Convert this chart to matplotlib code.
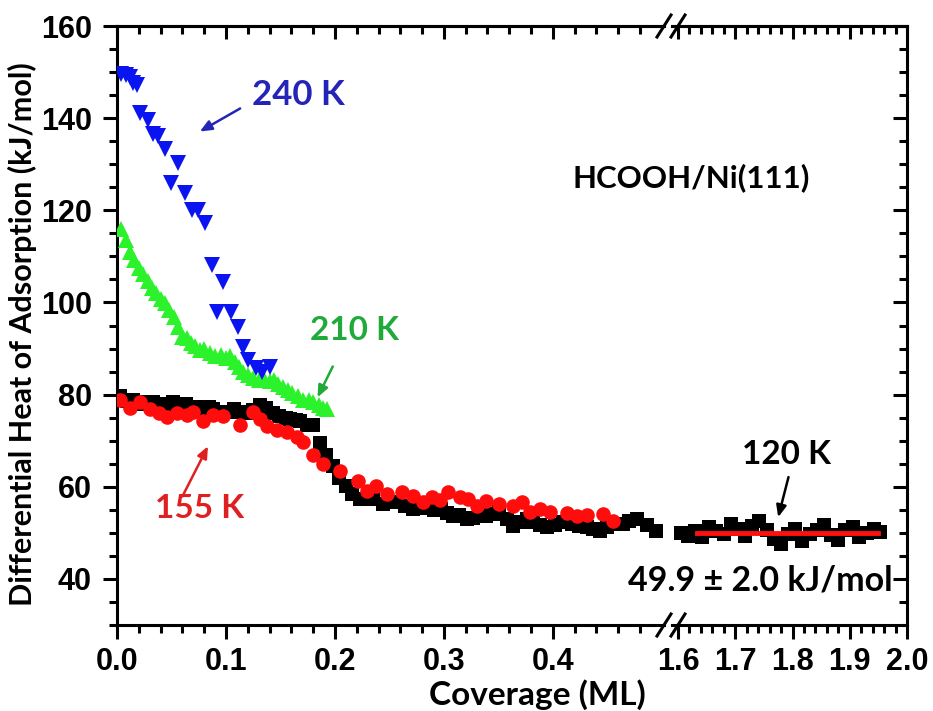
import matplotlib
matplotlib.use("Agg")
import matplotlib.pyplot as plt
from matplotlib.ticker import MultipleLocator, FixedLocator, FormatStrFormatter
from matplotlib.font_manager import FontProperties
from matplotlib.lines import Line2D

# ---- data ----
black_x = [0.003, 0.009, 0.015, 0.021, 0.027, 0.033, 0.040, 0.046, 0.051, 0.057,
           0.063, 0.069, 0.073, 0.079, 0.084, 0.088, 0.094, 0.101, 0.107, 0.113,
           0.119, 0.125, 0.131, 0.137, 0.143, 0.149, 0.155, 0.159, 0.164, 0.168,
           0.174, 0.180, 0.186, 0.192, 0.198, 0.204, 0.210, 0.216, 0.223, 0.230,
           0.235, 0.244, 0.250, 0.257, 0.264, 0.272, 0.279, 0.285, 0.291, 0.297,
           0.303, 0.308, 0.314, 0.321, 0.327, 0.333, 0.339, 0.345, 0.351, 0.358,
           0.363, 0.370, 0.376, 0.382, 0.388, 0.395, 0.402, 0.409, 0.418, 0.424,
           0.431, 0.437, 0.443, 0.450, 0.455, 0.464, 0.470, 0.477, 0.486, 0.495]
black_y = [79.6, 78.6, 78.9, 78.0, 78.5, 78.3, 77.6, 78.0, 78.3, 77.5,
           77.9, 77.2, 77.4, 76.8, 77.3, 76.8, 76.3, 76.3, 76.8, 76.3,
           76.0, 76.6, 77.8, 77.0, 76.1, 75.4, 74.9, 74.6, 74.4, 74.2,
           73.5, 73.5, 69.4, 66.8, 64.5, 62.0, 60.2, 58.4, 57.3, 58.0,
           57.3, 56.2, 56.8, 56.6, 55.8, 55.1, 55.4, 55.7, 55.0, 55.1,
           54.2, 53.6, 53.8, 53.0, 53.2, 53.8, 53.6, 54.0, 54.5, 53.0,
           51.5, 52.4, 52.9, 52.3, 51.6, 51.2, 51.8, 52.3, 52.0, 51.4,
           51.2, 50.9, 50.4, 51.2, 51.9, 51.9, 52.5, 53.0, 51.6, 50.4]

black_hi_x = [1.605, 1.617, 1.630, 1.642, 1.655, 1.667, 1.680, 1.692, 1.705, 1.717,
              1.730, 1.742, 1.755, 1.767, 1.780, 1.792, 1.805, 1.817, 1.830, 1.842,
              1.855, 1.867, 1.880, 1.892, 1.905, 1.917, 1.930, 1.942, 1.952]
black_hi_y = [50.0, 49.4, 50.3, 49.1, 51.2, 50.5, 49.8, 51.9, 50.8, 49.3,
              51.4, 52.6, 50.6, 48.6, 47.6, 49.8, 50.9, 48.2, 49.7, 50.6,
              51.8, 49.5, 48.4, 50.7, 51.3, 49.2, 49.9, 50.8, 50.2]
fit_x = [1.633, 1.949]
fit_y = [49.9, 49.9]

red_x = [0.003, 0.012, 0.021, 0.030, 0.039, 0.046, 0.055, 0.064, 0.070, 0.079,
         0.088, 0.097, 0.113, 0.125, 0.131, 0.138, 0.147, 0.156, 0.165, 0.171,
         0.180, 0.189, 0.205, 0.221, 0.229, 0.238, 0.248, 0.262, 0.272, 0.281,
         0.289, 0.296, 0.304, 0.315, 0.322, 0.330, 0.339, 0.351, 0.363, 0.372,
         0.379, 0.388, 0.397, 0.413, 0.422, 0.431, 0.446, 0.455]
red_y = [78.9, 77.2, 78.5, 76.8, 76.1, 75.2, 76.0, 75.6, 76.2, 74.2,
         75.6, 75.4, 73.5, 76.3, 74.6, 73.1, 72.4, 71.8, 70.7, 69.8,
         67.0, 64.9, 63.4, 61.2, 59.0, 60.1, 58.4, 58.8, 58.0, 56.7,
         57.7, 57.2, 58.8, 57.8, 57.3, 55.8, 56.9, 56.2, 55.8, 56.7,
         54.5, 55.1, 54.6, 54.4, 53.6, 53.8, 54.0, 52.5]

green_x = [0.004, 0.008, 0.012, 0.016, 0.020, 0.024, 0.028, 0.032, 0.036, 0.040,
           0.044, 0.048, 0.052, 0.056, 0.060, 0.064, 0.068, 0.072, 0.076, 0.080,
           0.085, 0.090, 0.095, 0.100, 0.104, 0.108, 0.112, 0.116, 0.120, 0.125,
           0.130, 0.135, 0.140, 0.144, 0.148, 0.152, 0.157, 0.161, 0.166, 0.171,
           0.176, 0.180, 0.185, 0.189, 0.193]
green_y = [116.0, 113.6, 111.0, 109.2, 107.4, 106.2, 104.6, 103.2, 102.0, 100.8,
           99.8, 98.4, 96.8, 94.6, 92.6, 92.2, 91.2, 90.6, 89.6, 89.9,
           89.0, 88.4, 88.6, 88.0, 88.3, 87.0, 86.0, 85.0, 84.2, 83.6,
           83.2, 83.4, 82.9, 83.2, 82.3, 81.6, 81.0, 80.3, 79.6, 78.9,
           78.8, 78.4, 77.8, 77.1, 76.9]

blue_x = [0.004, 0.008, 0.012, 0.015, 0.018, 0.021, 0.028, 0.033, 0.038, 0.044,
          0.050, 0.056, 0.062, 0.069, 0.074, 0.081, 0.087, 0.092, 0.097, 0.105,
          0.111, 0.116, 0.120, 0.128, 0.133, 0.140]
blue_y = [149.6, 149.4, 149.0, 147.7, 147.2, 141.2, 139.5, 136.6, 136.2, 133.4,
          126.0, 130.2, 123.7, 120.0, 120.0, 117.2, 108.1, 97.9, 104.5, 97.9,
          94.7, 90.4, 87.6, 85.8, 84.8, 86.1]

# ---- figure ----
W, H = 933, 711
fig = plt.figure(figsize=(W / 100, H / 100), dpi=100)

def fx(px):
    return px / W

def fy(py):
    return 1 - py / H

top, bot = 26, 625
ax1 = fig.add_axes([fx(117), fy(bot), fx(664) - fx(117), fy(top) - fy(bot)])
ax2 = fig.add_axes([fx(672), fy(bot), fx(907) - fx(672), fy(top) - fy(bot)])

lw = 2.2
tick_font = dict(family="Liberation Sans", weight="bold", size=22)
txt_font = "Lato"

for ax in (ax1, ax2):
    ax.patch.set_visible(False)
    ax.set_ylim(30, 160)
    for s in ax.spines.values():
        s.set_linewidth(lw)
    ax.yaxis.set_major_locator(MultipleLocator(20))
    ax.yaxis.set_minor_locator(MultipleLocator(5))

ax1.set_xlim(0, 0.502)
ax2.set_xlim(1.5895, 2.0)
ax1.spines["right"].set_visible(False)
ax2.spines["left"].set_visible(False)

ax1.xaxis.set_major_locator(FixedLocator([0.0, 0.1, 0.2, 0.3, 0.4]))
ax1.xaxis.set_minor_locator(FixedLocator([i * 0.02 for i in range(25)]))
ax2.xaxis.set_major_locator(FixedLocator([1.6, 1.7, 1.8, 1.9, 2.0]))
ax2.xaxis.set_minor_locator(FixedLocator([1.6 + i * 0.02 for i in range(21)]))
for ax in (ax1, ax2):
    ax.xaxis.set_major_formatter(FormatStrFormatter("%.1f"))
    ax.tick_params(axis="x", which="major", direction="out", length=10, width=lw, pad=6, top=False)
    ax.tick_params(axis="x", which="minor", direction="out", length=5.5, width=lw, top=False)
    for lab in ax.get_xticklabels():
        lab.set_fontproperties(FontProperties(**tick_font))
    # inward ticks along the top edge
    sec = ax.secondary_xaxis("top")
    sec.xaxis.set_major_locator(ax.xaxis.get_major_locator())
    sec.xaxis.set_minor_locator(ax.xaxis.get_minor_locator())
    sec.tick_params(axis="x", which="major", direction="in", length=9, width=lw, labeltop=False)
    sec.tick_params(axis="x", which="minor", direction="in", length=6, width=lw)
    sec.spines["top"].set_linewidth(lw)

ax1.yaxis.set_major_formatter(FormatStrFormatter("%d"))
ax1.tick_params(axis="y", which="major", direction="out", length=10, width=lw, pad=8, right=False)
ax1.tick_params(axis="y", which="minor", direction="out", length=5.5, width=lw, right=False)
for lab in ax1.get_yticklabels():
    lab.set_fontproperties(FontProperties(**tick_font))
ax2.yaxis.tick_right()
ax2.tick_params(axis="y", which="major", direction="in", length=10, width=lw, labelright=False, left=False)
ax2.tick_params(axis="y", which="minor", direction="in", length=6, width=lw, left=False)

# ---- data marks ----
ax1.plot(black_x, black_y, "s", color="black", ms=9.5, mew=0, zorder=3)
ax2.plot(black_hi_x, black_hi_y, "s", color="black", ms=9.5, mew=0, zorder=3)
ax2.plot(fit_x, fit_y, "-", color="#ff1010", lw=3.5, zorder=4)
ax1.plot(red_x, red_y, "o", color="#ff0d0d", ms=10.5, mew=0, zorder=4)
ax1.plot(green_x, green_y, "^", color="#2cf22c", ms=12, mew=0, zorder=5)
ax1.plot(blue_x, blue_y, "v", color="#0a14f0", ms=12, mew=0, zorder=6)

# ---- annotations ----
def note(px, py, s, color, size=24):
    fig.text(fx(px), fy(py), s, color=color, ha="center", va="center",
             fontsize=size, fontweight="bold", family=txt_font, zorder=7)

def arrow(ax, tail, head, color):
    ax.annotate("", xy=head, xytext=tail,
                arrowprops=dict(arrowstyle="-|>,head_length=0.7,head_width=0.3",
                                color=color, lw=1.8, shrinkA=0, shrinkB=0))

note(298, 95, "240 K", "#2424b8", 25)
arrow(ax1, (0.113, 142.1), (0.076, 137.1), "#2424b8")
note(355, 330, "210 K", "#1faa3a")
arrow(ax1, (0.198, 86.1), (0.184, 79.4), "#1faa3a")
note(200, 508, "155 K", "#e02020")
arrow(ax1, (0.060, 57.9), (0.0835, 68.8), "#e02020")
note(691, 178, "HCOOH/Ni(111)", "black", 22.5)
note(787, 455, "120 K", "black")
arrow(ax2, (1.793, 62.1), (1.775, 53.4), "black")
note(760, 580, "49.9 \u00b1 2.0 kJ/mol", "black", 24.5)

# ---- axis titles ----
fig.text(fx(537), fy(695), "Coverage (ML)", ha="center", va="center",
         fontsize=24, fontweight="bold", family=txt_font)
fig.text(fx(22), fy(334), "Differential Heat of Adsorption (kJ/mol)", ha="center",
         va="center", rotation=90, fontsize=22, fontweight="bold", family=txt_font)

# ---- axis-break marks ----
for py in (top, bot):
    for cx in (664, 678):
        fig.add_artist(Line2D([fx(cx - 7), fx(cx + 7)], [fy(py + 11), fy(py - 11)],
                              color="black", lw=2.2))

fig.savefig("out.png", dpi=100)
